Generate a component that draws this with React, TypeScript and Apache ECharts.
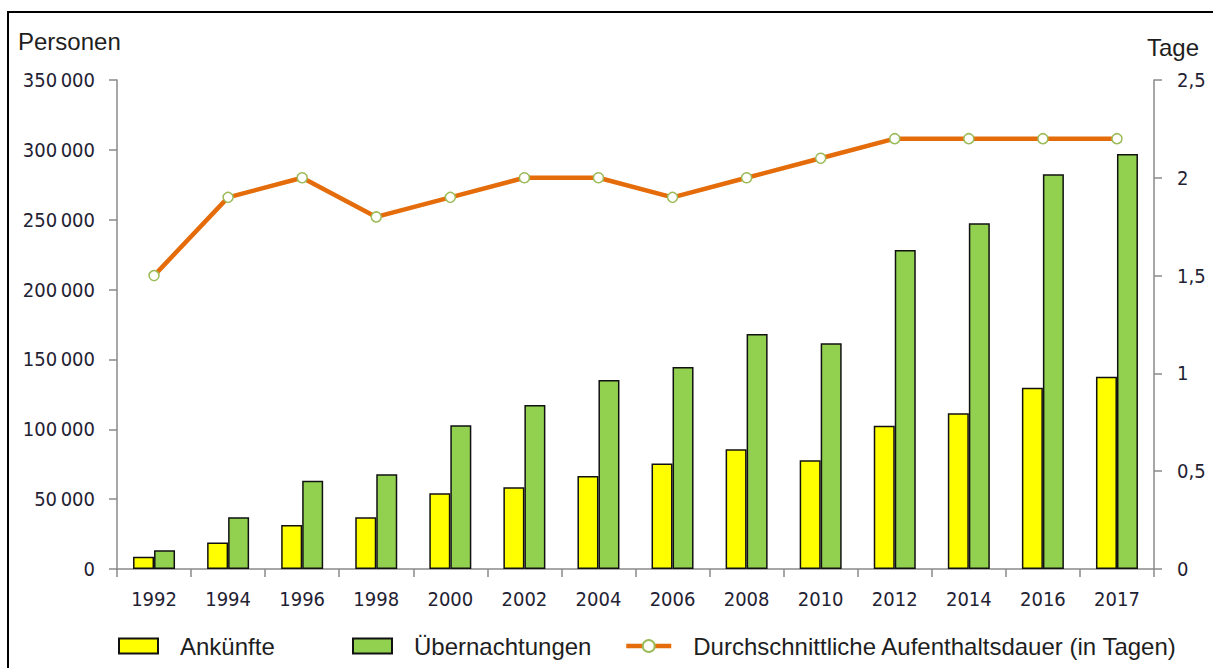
import React, { useEffect, useRef } from "react";
import * as echarts from "echarts";

// Years on the category axis
const years = ["1992", "1994", "1996", "1998", "2000", "2002", "2004", "2006", "2008", "2010", "2012", "2014", "2016", "2017"];
// Arrivals (persons)
const arrivals = [8800, 19000, 31500, 37000, 54200, 58500, 66500, 75500, 85700, 77800, 102600, 111400, 129800, 137600];
// Overnight stays (persons)
const overnights = [13400, 37000, 63200, 67800, 102800, 117400, 135300, 144600, 168200, 161500, 228300, 247400, 282500, 297000];
// Average length of stay (days)
const stayDays = [1.5, 1.9, 2.0, 1.8, 1.9, 2.0, 2.0, 1.9, 2.0, 2.1, 2.2, 2.2, 2.2, 2.2];

const NAME_ARR = "Ankünfte";
const NAME_OVN = "Übernachtungen";
const NAME_STAY = "Durchschnittliche Aufenthaltsdauer (in Tagen)";

const AXIS_FONT = "'DejaVu Sans Condensed', 'DejaVu Sans', sans-serif";
const TEXT_FONT = "'Liberation Sans', Arial, sans-serif";
const AXIS_COLOR = "#8a8a8a";

function thousands(v: number): string {
  const s = String(Math.round(v));
  return s.replace(/\B(?=(\d{3})+(?!\d))/g, "\u2009");
}

export default function App() {
  const ref = useRef<HTMLDivElement>(null);

  useEffect(() => {
    if (!ref.current) return;
    const chart = echarts.init(ref.current, undefined, { renderer: "svg" });

    const legendBase = {
      top: 634,
      padding: 0,
      selectedMode: false,
      itemHeight: 15,
      textStyle: {
        fontFamily: TEXT_FONT,
        fontSize: 24,
        color: "#1e1e1e",
        padding: [0, 0, 0, 17],
      },
    };

    chart.setOption({
      animation: false,
      backgroundColor: "#ffffff",
      grid: { left: 117, right: 59, top: 80, bottom: 99, containLabel: false },
      graphic: [
        {
          type: "rect",
          shape: { x: 8, y: 12, width: 1240, height: 700 },
          style: { fill: "none", stroke: "#000", lineWidth: 2 },
          silent: true,
        },
        {
          type: "text",
          x: 18,
          y: 41,
          style: { text: "Personen", font: `24px ${TEXT_FONT}`, fill: "#1e1e1e", textVerticalAlign: "middle" },
        },
        {
          type: "text",
          x: 1147,
          y: 47,
          style: { text: "Tage", font: `24px ${TEXT_FONT}`, fill: "#1e1e1e", textVerticalAlign: "middle" },
        },
      ],
      legend: [
        { ...legendBase, left: 118, itemWidth: 39, icon: "rect", data: [NAME_ARR] },
        { ...legendBase, left: 352, itemWidth: 39, icon: "rect", data: [NAME_OVN] },
        { ...legendBase, left: 624, itemWidth: 45, lineStyle: { width: 4.5 }, data: [NAME_STAY] },
      ],
      xAxis: {
        type: "category",
        data: years,
        boundaryGap: true,
        axisLine: { lineStyle: { color: AXIS_COLOR, width: 1.5 } },
        axisTick: { show: true, interval: 0, length: 8, lineStyle: { color: AXIS_COLOR, width: 1.5 } },
        axisLabel: { interval: 0, margin: 20, fontFamily: AXIS_FONT, fontSize: 20, color: "#1f2233" },
        splitLine: { show: false },
      },
      yAxis: [
        {
          type: "value",
          min: 0,
          max: 350000,
          interval: 50000,
          position: "left",
          axisLine: { show: true, lineStyle: { color: AXIS_COLOR, width: 1.5 } },
          axisTick: { show: true, length: 8, lineStyle: { color: AXIS_COLOR, width: 1.5 } },
          axisLabel: { margin: 22, fontFamily: AXIS_FONT, fontSize: 20, color: "#1f2233", formatter: (v: number) => thousands(v) },
          splitLine: { show: false },
        },
        {
          type: "value",
          min: 0,
          max: 2.5,
          interval: 0.5,
          position: "right",
          axisLine: { show: true, lineStyle: { color: AXIS_COLOR, width: 1.5 } },
          axisTick: { show: true, length: 8, lineStyle: { color: AXIS_COLOR, width: 1.5 } },
          axisLabel: {
            margin: 23,
            fontFamily: AXIS_FONT,
            fontSize: 20,
            color: "#1f2233",
            formatter: (v: number) => String(Math.round(v * 10) / 10).replace(".", ","),
          },
          splitLine: { show: false },
        },
      ],
      series: [
        {
          name: NAME_ARR,
          type: "bar",
          data: arrivals,
          barWidth: 21,
          barGap: "0%",
          itemStyle: { color: "#ffff00", borderColor: "#111", borderWidth: 1.5 },
        },
        {
          name: NAME_OVN,
          type: "bar",
          data: overnights,
          barWidth: 21,
          barGap: "0%",
          itemStyle: { color: "#92d050", borderColor: "#111", borderWidth: 1.5 },
        },
        {
          name: NAME_STAY,
          type: "line",
          yAxisIndex: 1,
          data: stayDays,
          symbol: "circle",
          symbolSize: 10,
          showSymbol: true,
          lineStyle: { color: "#e46c0a", width: 4.5 },
          itemStyle: { color: "#ffffff", borderColor: "#9bbb59", borderWidth: 1.5 },
          z: 5,
        },
      ],
    });

    return () => chart.dispose();
  }, []);

  return (
    <div
      ref={ref}
      style={{ position: "fixed", left: 0, top: 0, width: 1213, height: 668, background: "#fff" }}
    />
  );
}
